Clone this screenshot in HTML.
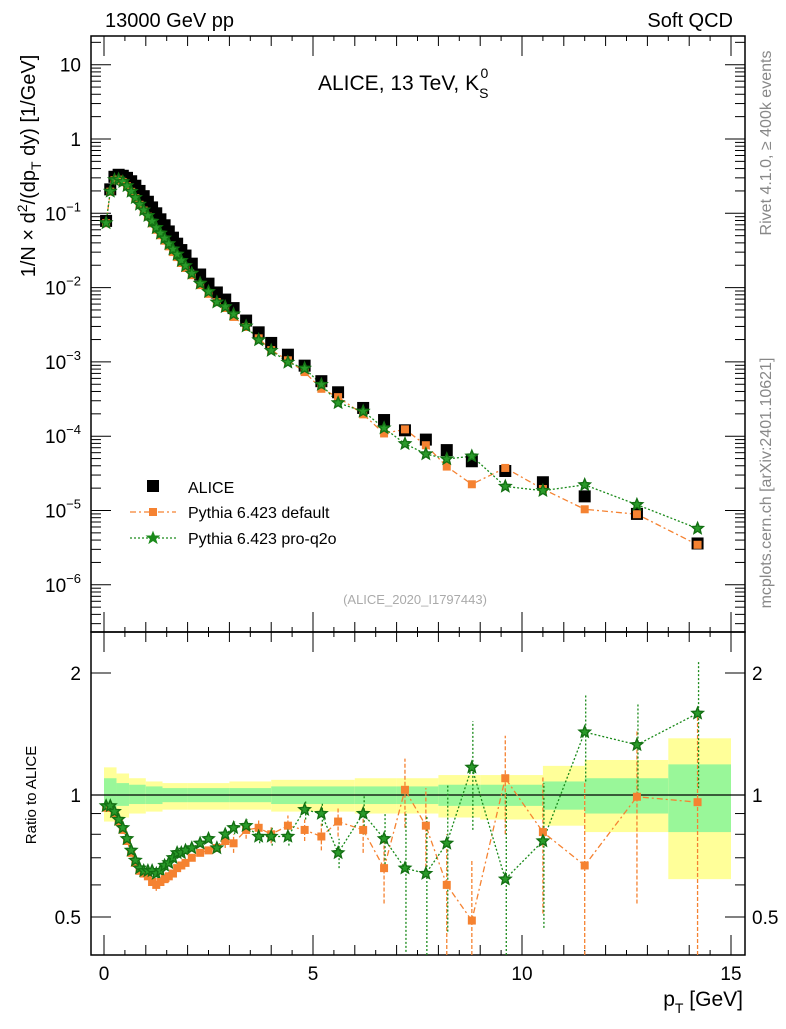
<!DOCTYPE html>
<html><head><meta charset="utf-8"><style>
body{margin:0;background:#fff;}
svg text{font-family:"Liberation Sans",sans-serif;}
</style></head><body>
<svg id="c" width="786" height="1024" xmlns="http://www.w3.org/2000/svg">
<g id="bands"></g>
<g id="axes"></g>
<g id="series"></g>
<text x="105" y="27" font-size="20">13000 GeV pp</text>
<text x="733" y="27" font-size="20" text-anchor="end">Soft QCD</text>
<text x="318" y="90" font-size="21">ALICE, 13 TeV, K<tspan dy="8" font-size="14">S</tspan><tspan dx="-8" dy="-20" font-size="14">0</tspan></text>
<text transform="translate(35,166) rotate(-90)" font-size="20" text-anchor="middle">1/N × d<tspan dy="-8" font-size="14">2</tspan><tspan dy="8">/(dp</tspan><tspan dy="6" font-size="14">T</tspan><tspan dy="-6"> dy) [1/GeV]</tspan></text>
<text transform="translate(771,143) rotate(-90)" font-size="16" fill="#888" text-anchor="middle">Rivet 4.1.0, ≥ 400k events</text>
<text transform="translate(771,483) rotate(-90)" font-size="16" fill="#888" text-anchor="middle">mcplots.cern.ch [arXiv:2401.10621]</text>
<text x="415" y="604" font-size="13" fill="#aaa" text-anchor="middle">(ALICE_2020_I1797443)</text>
<text transform="translate(36,795) rotate(-90)" font-size="15" text-anchor="middle">Ratio to ALICE</text>
<text x="743" y="1006" font-size="21" text-anchor="end">p<tspan dy="7" font-size="14">T</tspan><tspan dy="-7"> [GeV]</tspan></text>
<g>
<rect x="147" y="480" width="12" height="12" fill="#000"/>
<text x="188" y="493" font-size="16">ALICE</text>
<line x1="130" y1="512" x2="176" y2="512" stroke="#f58231" stroke-width="1.3" stroke-dasharray="6,3,2,3"/>
<rect x="149" y="508" width="8" height="8" fill="#f58231"/>
<text x="188" y="518" font-size="16">Pythia 6.423 default</text>
<line x1="130" y1="538" x2="176" y2="538" stroke="#1a8a1a" stroke-width="1.3" stroke-dasharray="2,2"/>
<polygon points="153,532 154.6,536 159,536 155.5,538.8 156.8,543 153,540.5 149.2,543 150.5,538.8 147,536 151.4,536" fill="#1a8a1a" stroke="#1a8a1a"/>
<text x="188" y="544" font-size="16">Pythia 6.423 pro-q2o</text>
</g>
</svg>
<script>
const pT=[0.05,0.15,0.25,0.35,0.45,0.55,0.65,0.75,0.85,0.95,1.05,1.15,1.25,1.35,1.45,1.55,1.65,1.75,1.85,1.95,2.1,2.3,2.5,2.7,2.9,3.1,3.4,3.7,4.0,4.4,4.8,5.2,5.6,6.2,6.7,7.2,7.7,8.2,8.8,9.6,10.5,11.5,12.75,14.2];
const alice=[0.079,0.21,0.31,0.33,0.32,0.30,0.27,0.235,0.20,0.17,0.143,0.12,0.10,0.083,0.069,0.057,0.047,0.039,0.032,0.027,0.021,0.015,0.0113,0.0086,0.0069,0.0053,0.0036,0.0025,0.0018,0.00125,0.00089,0.00055,0.00039,0.00024,0.000165,0.00012,0.00009,0.000065,0.000046,0.000034,0.000024,0.0000155,0.000009,0.0000036];
const ratioDefault=[0.93,0.93,0.9,0.86,0.82,0.77,0.72,0.68,0.65,0.64,0.63,0.61,0.6,0.61,0.62,0.63,0.64,0.66,0.67,0.68,0.7,0.72,0.73,0.74,0.77,0.76,0.82,0.83,0.8,0.84,0.82,0.79,0.86,0.82,0.66,1.03,0.84,0.6,0.49,1.1,0.81,0.67,0.99,0.96];
const ratioProq2o=[0.94,0.94,0.91,0.87,0.83,0.78,0.73,0.69,0.66,0.65,0.65,0.65,0.64,0.65,0.67,0.68,0.70,0.72,0.72,0.73,0.74,0.76,0.78,0.74,0.80,0.83,0.84,0.79,0.79,0.79,0.92,0.90,0.72,0.90,0.78,0.66,0.64,0.76,1.17,0.62,0.77,1.43,1.33,1.59];
const errDefault=[0,0,0,0,0,0,0,0,0,0,0,0,0.02,0,0,0.02,0,0,0,0,0,0,0,0,0.03,0.04,0.04,0.04,0.04,0.05,0.05,0.06,0.07,0.1,0.12,0.2,0.2,0.2,0.2,0.3,0.3,0.4,0.45,0.6];
const errProq2o=[0,0,0,0,0,0,0,0,0,0,0,0,0,0,0,0,0,0,0,0,0,0,0,0,0.02,0.03,0.03,0.03,0.04,0.04,0.05,0.06,0.06,0.1,0.12,0.25,0.25,0.3,0.35,0.4,0.3,0.35,0.35,0.55];
const bandX=[0,0.3,0.6,1.0,1.4,2.0,3.0,4.0,5.0,6.0,7.0,8.0,9.0,10.5,11.5,13.5,15];
const yellowHi=[1.17,1.13,1.1,1.08,1.07,1.07,1.08,1.09,1.09,1.1,1.1,1.12,1.12,1.18,1.22,1.38];
const yellowLo=[0.86,0.88,0.9,0.91,0.92,0.92,0.92,0.91,0.91,0.9,0.9,0.88,0.87,0.84,0.81,0.62];
const greenHi=[1.1,1.07,1.06,1.05,1.04,1.04,1.04,1.05,1.05,1.05,1.05,1.06,1.06,1.08,1.1,1.19];
const greenLo=[0.92,0.94,0.95,0.95,0.96,0.96,0.96,0.95,0.95,0.95,0.95,0.94,0.94,0.92,0.9,0.81];
const xTicks=[0,5,10,15];
const mainTickExp=[1,0,-1,-2,-3,-4,-5,-6];
const ratioTicks=[0.5,1,2];

const NS="http://www.w3.org/2000/svg";
const L=91,R=745,T=36,MB=632,RB=955;
const X=v=>104+v*41.8;
const Y=v=>139-Math.log10(v)*74.3;
const RY=v=>795-Math.log2(v)*122;
function el(tag,attrs,parent){const e=document.createElementNS(NS,tag);for(const k in attrs)e.setAttribute(k,attrs[k]);parent.appendChild(e);return e;}
const axes=document.getElementById('axes'),ser=document.getElementById('series'),bands=document.getElementById('bands');

for(let i=0;i<bandX.length-1;i++){
  const x1=X(bandX[i]),x2=X(bandX[i+1]);
  const y=el('rect',{x:x1,y:RY(yellowHi[i]),width:x2-x1,height:RY(yellowLo[i])-RY(yellowHi[i]),fill:'#ffff99'},bands);
  
  
  const g=el('rect',{x:x1,y:RY(greenHi[i]),width:x2-x1,height:RY(greenLo[i])-RY(greenHi[i]),fill:'#99f799'},bands);
  
  
}
const one=el('line',{x1:L,x2:R,y1:RY(1),y2:RY(1),stroke:'#000','stroke-width':1.3},bands);



[[T,MB],[MB,RB]].forEach(([a,b],k)=>{
  const r=el('rect',{x:L,y:a,width:R-L,height:b-a,fill:'none',stroke:'#000','stroke-width':1.5},axes);
  
  
});
function tick(x1,y1,x2,y2){el('line',{x1,y1,x2,y2,stroke:'#000','stroke-width':1},axes);}
for(let v=0;v<=15.01;v+=0.5){
  const major=Math.abs(v%5)<1e-6, mid=Math.abs(v%1)<1e-6;
  const len=major?20:(mid?10:5);const x=X(v);
  if(x<L||x>R)continue;
  [[T,1],[MB,-1],[MB,1],[RB,-1]].forEach(([y,d])=>tick(x,y,x,y+d*len));
}
xTicks.forEach(v=>{
  const t=el('text',{x:X(v),y:980,'font-size':19,'text-anchor':'middle'},axes);t.textContent=v;
  
  
});
for(let e=-7;e<=1;e++){
  for(let m=1;m<10;m++){
    const y=Y(m*Math.pow(10,e));if(y<T||y>MB)continue;
    const len=m==1?20:10;tick(L,y,L+len,y);tick(R,y,R-len,y);
  }
}
mainTickExp.forEach(e=>{
  const t=el('text',{x:81,y:Y(Math.pow(10,e))+7,'font-size':19,'text-anchor':'end'},axes);
  if(e==1)t.textContent='10';else if(e==0)t.textContent='1';
  else{t.textContent='10';const s=el('tspan',{dy:-9,'font-size':13},t);s.textContent=String(e).replace('-','−');}
  
  
});
[0.4,0.5,0.6,0.7,0.8,0.9,1,2].forEach(v=>{const y=RY(v);if(y<MB||y>RB)return;const len=(v==0.5||v==1||v==2)?20:10;tick(L,y,L+len,y);tick(R,y,R-len,y);});
ratioTicks.forEach(v=>{
  [[81,'end'],[752,'start']].forEach(([x,a])=>{
    const t=el('text',{x,y:RY(v)+7,'font-size':19,'text-anchor':a},axes);t.textContent=v;
    
    
  });
});

function star(cx,cy,r,parent){
  let p=[];for(let i=0;i<10;i++){const a=-Math.PI/2+i*Math.PI/5,rr=i%2?r*0.45:r;p.push((cx+rr*Math.cos(a)).toFixed(1)+','+(cy+rr*Math.sin(a)).toFixed(1));}
  return el('polygon',{points:p.join(' '),fill:'#2a9a2a',stroke:'#137013','stroke-width':1.4},parent);
}
let dDef='',dPro='';
pT.forEach((p,i)=>{
  const x=X(p);
  dDef+=(i?'L':'M')+x+','+Y(alice[i]*ratioDefault[i]);
  dPro+=(i?'L':'M')+x+','+Y(alice[i]*ratioProq2o[i]);
});
const l1=el('path',{d:dDef,fill:'none',stroke:'#f58231','stroke-width':1.3,'stroke-dasharray':'6,3,2,3'},ser);


const l2=el('path',{d:dPro,fill:'none',stroke:'#1a8a1a','stroke-width':1.3,'stroke-dasharray':'2,2'},ser);


pT.forEach((p,i)=>{
  const x=X(p);
  const a=el('rect',{x:x-6,y:Y(alice[i])-6,width:12,height:12,fill:'#000'},ser);
  
  
});
pT.forEach((p,i)=>{
  const x=X(p);
  const o=el('rect',{x:x-4,y:Y(alice[i]*ratioDefault[i])-4,width:8,height:8,fill:'#f58231'},ser);
  
  
  const s=star(x,Y(alice[i]*ratioProq2o[i]),6,ser);
  
  
});
let rD='',rP='';
pT.forEach((p,i)=>{const x=X(p);rD+=(i?'L':'M')+x+','+RY(ratioDefault[i]);rP+=(i?'L':'M')+x+','+RY(ratioProq2o[i]);});
const r1=el('path',{d:rD,fill:'none',stroke:'#f58231','stroke-width':1.3,'stroke-dasharray':'6,3,2,3'},ser);


const r2=el('path',{d:rP,fill:'none',stroke:'#1a8a1a','stroke-width':1.3,'stroke-dasharray':'2,2'},ser);


pT.forEach((p,i)=>{
  const x=X(p);
  if(errDefault[i]>0){
    const lo=Math.max(ratioDefault[i]-errDefault[i],0.35);
    const e=el('line',{x1:x,x2:x,y1:Math.min(RY(lo),RB),y2:RY(ratioDefault[i]+errDefault[i]),stroke:'#f58231','stroke-width':1.3,'stroke-dasharray':'4,2'},ser);
    
    
  }
  if(errProq2o[i]>0){
    const lo=Math.max(ratioProq2o[i]-errProq2o[i],0.35);
    const e=el('line',{x1:x+1,x2:x+1,y1:Math.min(RY(lo),RB),y2:RY(ratioProq2o[i]+errProq2o[i]),stroke:'#1a8a1a','stroke-width':1.3,'stroke-dasharray':'2,2'},ser);
    
    
  }
  const o=el('rect',{x:x-4,y:RY(ratioDefault[i])-4,width:8,height:8,fill:'#f58231'},ser);
  
  
  const s=star(x,RY(ratioProq2o[i]),6,ser);
  
  
});
</script>
</body></html>
